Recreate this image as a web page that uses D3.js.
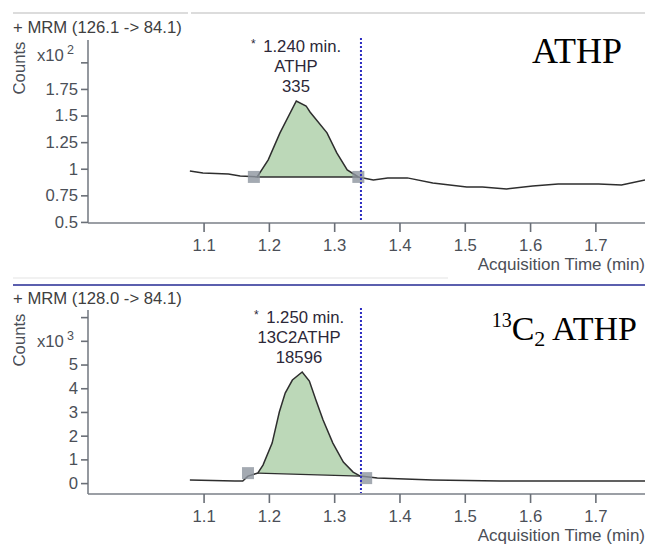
<!DOCTYPE html>
<html>
<head>
<meta charset="utf-8">
<script src="https://cdn.jsdelivr.net/npm/d3@7"></script>
<style>
  body { margin: 0; background: #fff; }
  svg text { font-family: "Liberation Sans", Arial, sans-serif; }
</style>
</head>
<body>
<div id="chart"></div>
<script>
'use strict';

// ATHP trace (x10^2 counts)
var athpTime = [1.079, 1.099, 1.138, 1.156, 1.182, 1.199, 1.217, 1.242, 1.257, 1.263, 1.289, 1.304, 1.320, 1.337,
    1.360, 1.382, 1.412, 1.451, 1.503, 1.527, 1.564, 1.604, 1.643, 1.705, 1.740, 1.776];
var athpCounts = [0.979, 0.960, 0.951, 0.932, 0.923, 1.083, 1.337, 1.637, 1.590, 1.533, 1.337, 1.149, 0.989, 0.923,
    0.895, 0.914, 0.914, 0.867, 0.829, 0.829, 0.810, 0.838, 0.857, 0.857, 0.848, 0.895];

// 13C2 ATHP trace (x10^3 counts)
var labTime = [1.079, 1.148, 1.160, 1.168, 1.183, 1.191, 1.205, 1.216, 1.225, 1.236, 1.251, 1.262, 1.272, 1.283,
    1.298, 1.314, 1.329, 1.340, 1.366, 1.451, 1.554, 1.776];
var labCounts = [0.127, 0.084, 0.084, 0.295, 0.422, 0.759, 1.688, 2.996, 3.797, 4.346, 4.684, 4.304, 3.502, 2.658,
    1.688, 0.886, 0.464, 0.295, 0.211, 0.127, 0.084, 0.084];

var xTicks = [1.1, 1.2, 1.3, 1.4, 1.5, 1.6, 1.7];
var athpYTicks = [0.5, 0.75, 1, 1.25, 1.5, 1.75, 2];
var athpYLabels = ['0.5', '0.75', '1', '1.25', '1.5', '1.75', ''];
var labYTicks = [0, 1, 2, 3, 4, 5, 6, 7];
var labYLabels = ['0', '1', '2', '3', '4', '5', '', ''];

// integration: [start time, start value, end time, end value]
var athpPeak = [1.182, 0.923, 1.337, 0.923];
var labPeak = [1.183, 0.422, 1.340, 0.295];
var athpMarkers = [[1.177, 0.923], [1.337, 0.923]];
var labMarkers = [[1.168, 0.42], [1.349, 0.21]];
var athpNotes = ['1.240 min.', 'ATHP', '335'];
var labNotes = ['1.250 min.', '13C2ATHP', '18596'];
var cursorTime = 1.341;

var width = 645, height = 545;
var fs = 16.7;
var svg = d3.select('#chart').append('svg')
    .attr('width', width)
    .attr('height', height);

svg.append('defs').append('clipPath').attr('id', 'pageclip')
    .append('rect').attr('x', 13).attr('y', 0).attr('width', width - 13).attr('height', height);

var root = svg.append('g').attr('clip-path', 'url(#pageclip)');

// separators
root.append('line').attr('x1', 13).attr('x2', 188).attr('y1', 13).attr('y2', 13)
    .attr('stroke', '#dcdcdc').attr('stroke-width', 2);
root.append('line').attr('x1', 191).attr('x2', 645).attr('y1', 13).attr('y2', 13)
    .attr('stroke', '#dcdcdc').attr('stroke-width', 2);
root.append('line').attr('x1', 13).attr('x2', 448).attr('y1', 278).attr('y2', 278)
    .attr('stroke', '#ececec').attr('stroke-width', 1.5);
root.append('line').attr('x1', 13).attr('x2', 645).attr('y1', 285).attr('y2', 285)
    .attr('stroke', '#5b5fae').attr('stroke-width', 2);

function drawPanel(opt) {
    var x = d3.scaleLinear().domain([0.923, 1.776]).range([88, 645]);
    var y = d3.scaleLinear().domain(opt.yDomain).range([opt.bottom, opt.top]);
    var g = root.append('g');
    var pts = opt.time.map(function(t, i) { return [t, opt.counts[i]]; });

    // title
    g.append('text').attr('x', 13).attr('y', opt.titleY)
        .attr('font-size', fs).attr('fill', '#404040').text('+ MRM (' + opt.mrm + ')');

    // axes
    var yAxis = g.append('g').attr('transform', 'translate(88,0)')
        .call(d3.axisLeft(y).tickValues(opt.yTicks).tickSize(7).tickPadding(3)
            .tickFormat(function(d, i) { return opt.yLabels[i]; }));
    var xAxis = g.append('g').attr('transform', 'translate(0,' + opt.bottom + ')')
        .call(d3.axisBottom(x).tickValues(xTicks).tickSize(9).tickPadding(7).tickFormat(d3.format('.1f')));
    [yAxis, xAxis].forEach(function(a) {
        a.select('.domain').attr('stroke', '#7a7f87').attr('stroke-width', 1.6);
        a.selectAll('.tick line').attr('stroke', '#6a6f77').attr('stroke-width', 1.6);
        a.selectAll('.tick text').attr('font-size', fs).attr('fill', '#4b4f57')
            .attr('font-family', '"Liberation Sans", Arial, sans-serif');
    });
    yAxis.select('.domain').attr('d', 'M0,' + opt.bottom + 'V' + opt.top);
    xAxis.select('.domain').attr('d', 'M88,0H645');

    g.append('text').attr('x', 645).attr('y', opt.bottom + 47).attr('text-anchor', 'end')
        .attr('font-size', 17).attr('fill', '#4b4f57').text('Acquisition Time (min)');

    // y labels
    g.append('text').attr('transform', 'translate(25,' + opt.countsY + ') rotate(-90)')
        .attr('text-anchor', 'middle').attr('font-size', fs).attr('fill', '#4b4f57').text('Counts');
    var ex = g.append('text').attr('x', 37).attr('y', opt.expY).attr('font-size', fs).attr('fill', '#4b4f57');
    ex.append('tspan').text('x10');
    ex.append('tspan').attr('dx', 3).attr('dy', -7).attr('font-size', 12.5).text(opt.exp);

    // peak fill
    var inPeak = pts.filter(function(p) { return p[0] >= opt.peak[0] && p[0] <= opt.peak[2]; });
    var poly = [[opt.peak[0], opt.peak[1]]].concat(inPeak, [[opt.peak[2], opt.peak[3]]]);
    g.append('path').datum(poly)
        .attr('d', d3.line().x(function(d) { return x(d[0]); }).y(function(d) { return y(d[1]); }))
        .attr('fill', '#bcd8b8').attr('stroke', 'none');
    g.append('line')
        .attr('x1', x(opt.peak[0])).attr('y1', y(opt.peak[1]))
        .attr('x2', x(opt.peak[2])).attr('y2', y(opt.peak[3]))
        .attr('stroke', '#2e2e2e').attr('stroke-width', 1.4);

    // trace
    g.append('path').datum(pts)
        .attr('d', d3.line().x(function(d) { return x(d[0]); }).y(function(d) { return y(d[1]); }))
        .attr('fill', 'none').attr('stroke', '#2e2e2e').attr('stroke-width', 1.5);

    // markers
    g.selectAll('rect.mk').data(opt.markers).enter().append('rect')
        .attr('class', 'mk')
        .attr('x', function(d) { return x(d[0]) - 6; })
        .attr('y', function(d) { return y(d[1]) - 6; })
        .attr('width', 12).attr('height', 12)
        .attr('fill', '#8d959f').attr('opacity', 0.8);

    // cursor
    g.append('line').attr('x1', x(cursorTime)).attr('x2', x(cursorTime))
        .attr('y1', opt.top - 2).attr('y2', opt.bottom - 1)
        .attr('stroke', '#2b2bc0').attr('stroke-width', 2).attr('stroke-dasharray', '2,2');

    // annotation
    var ax = opt.noteX;
    var t0 = g.append('text').attr('x', ax).attr('y', opt.noteY).attr('text-anchor', 'middle')
        .attr('font-size', fs).attr('fill', '#2c2838');
    t0.append('tspan').attr('font-size', 12).attr('dy', -4).text('*');
    t0.append('tspan').attr('dx', 3).attr('dy', 4).text(' ' + opt.notes[0]);
    g.append('text').attr('x', ax).attr('y', opt.noteY + 20).attr('text-anchor', 'middle')
        .attr('font-size', fs).attr('fill', '#2c2838').text(opt.notes[1]);
    g.append('text').attr('x', ax).attr('y', opt.noteY + 40).attr('text-anchor', 'middle')
        .attr('font-size', fs).attr('fill', '#2c2838').text(opt.notes[2]);
}

drawPanel({
    time: athpTime, counts: athpCounts, yDomain: [0.49, 2.21], top: 40, bottom: 223,
    yTicks: athpYTicks, yLabels: athpYLabels, peak: athpPeak, markers: athpMarkers,
    notes: athpNotes, noteX: 296, noteY: 52, mrm: '126.1 -> 84.1', titleY: 33,
    countsY: 68, expY: 61, exp: '2'
});
drawPanel({
    time: labTime, counts: labCounts, yDomain: [-0.46, 7.3], top: 310, bottom: 494,
    yTicks: labYTicks, yLabels: labYLabels, peak: labPeak, markers: labMarkers,
    notes: labNotes, noteX: 299, noteY: 323, mrm: '128.0 -> 84.1', titleY: 304,
    countsY: 340, expY: 347, exp: '3'
});

// compound labels
svg.append('text').attr('x', 622).attr('y', 63).attr('text-anchor', 'end')
    .style('font-family', '"Liberation Serif", "Times New Roman", serif')
    .attr('font-size', 36).attr('fill', '#000').text('ATHP');
var lab = svg.append('text').attr('x', 637).attr('y', 340).attr('text-anchor', 'end')
    .style('font-family', '"Liberation Serif", "Times New Roman", serif')
    .attr('font-size', 34).attr('fill', '#000');
lab.append('tspan').attr('font-size', 20).attr('dy', -13).text('13');
lab.append('tspan').attr('dy', 13).text('C');
lab.append('tspan').attr('font-size', 22).attr('dy', 6).text('2');
lab.append('tspan').attr('dy', -6).text(' ATHP');
</script>
</body>
</html>
